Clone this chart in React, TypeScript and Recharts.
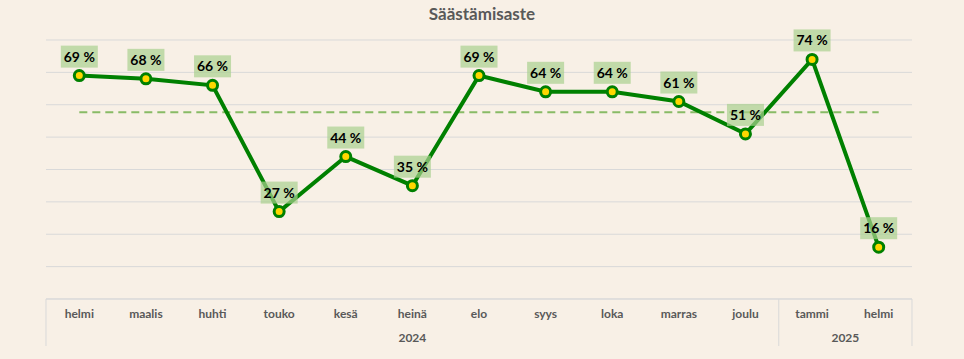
import React from "react";
import {
  LineChart,
  Line,
  XAxis,
  YAxis,
  CartesianGrid,
  LabelList,
} from "recharts";

const MONTHS = [
  "helmi", "maalis", "huhti", "touko", "kesä", "heinä", "elo",
  "syys", "loka", "marras", "joulu", "tammi", "helmi",
];
const YEARS = [
  "2024", "2024", "2024", "2024", "2024", "2024", "2024",
  "2024", "2024", "2024", "2024", "2025", "2025",
];
const RATES = [69, 68, 66, 27, 44, 35, 69, 64, 64, 61, 51, 74, 16];
// 12 kk keskiarvo (katkoviiva)
const AVERAGE = 57.7;
const Y_TICKS = [0, 10, 20, 30, 40, 50, 60, 70, 80];

const W = 964;
const H = 359;
const AXIS_H = 60;
const MARGIN = { top: 40, right: 52, bottom: 0, left: 46 };
const BAND = (W - MARGIN.left - MARGIN.right) / MONTHS.length;

const BG = "#f8f0e6";
const GREEN = "#008000";
const FONT = "Lato, 'Open Sans', sans-serif";

const data = MONTHS.map((m, i) => ({
  key: `${m}-${YEARS[i]}`,
  month: m,
  year: YEARS[i],
  rate: RATES[i],
  avg: AVERAGE,
}));

function MonthTick(props: any) {
  const { x, y, index } = props;
  const year = YEARS[index];
  const isFirst = index === 0 || YEARS[index - 1] !== year;
  const isLast = index === YEARS.length - 1;
  const groupLen = YEARS.filter((v) => v === year).length;
  const left = x - BAND / 2;
  // tick y sits a few px below the axis line
  const top = y - 8;
  return (
    <g>
      <text
        x={x}
        y={top + 19}
        textAnchor="middle"
        fontFamily={FONT}
        fontSize={12}
        fontWeight={700}
        fill="#595959"
      >
        {MONTHS[index]}
      </text>
      {isFirst && (
        <>
          <line x1={left} x2={left} y1={top} y2={top + 47} stroke="#d9d9d9" />
          <text
            x={left + (groupLen * BAND) / 2}
            y={top + 43}
            textAnchor="middle"
            fontFamily={FONT}
            fontSize={12}
            fontWeight={700}
            fill="#595959"
          >
            {year}
          </text>
        </>
      )}
      {isLast && (
        <line x1={x + BAND / 2} x2={x + BAND / 2} y1={top} y2={top + 47} stroke="#d9d9d9" />
      )}
    </g>
  );
}

function RateLabel(props: any) {
  const { x, y, value } = props;
  const w = 37;
  const h = 22;
  return (
    <g>
      <rect x={x - w / 2} y={y - 8 - h} width={w} height={h} fill="#a9d08e" fillOpacity={0.7} />
      <text
        x={x}
        y={y - 8 - h / 2 + 5}
        textAnchor="middle"
        fontFamily={FONT}
        fontSize={14}
        fontWeight={700}
        fill="#000"
      >
        {`${value} %`}
      </text>
    </g>
  );
}

export default function App() {
  return (
    <div
      style={{
        position: "fixed",
        left: 0,
        top: 0,
        width: W,
        height: H,
        background: BG,
      }}
    >
      <div
        style={{
          position: "absolute",
          top: 3,
          width: W,
          textAlign: "center",
          fontFamily: FONT,
          fontSize: 17,
          fontWeight: 700,
          color: "#595959",
        }}
      >
        Säästämisaste
      </div>
      <LineChart width={W} height={H} data={data} margin={MARGIN}>
        <CartesianGrid vertical={false} stroke="#d9d9d9" />
        <XAxis
          dataKey="key"
          type="category"
          axisLine={{ stroke: "#d9d9d9" }}
          tickLine={false}
          tick={<MonthTick />}
          interval={0}
          height={AXIS_H}
          padding={{ left: BAND / 2, right: BAND / 2 }}
        />
        <YAxis hide domain={[0, 80]} ticks={Y_TICKS} />
        <Line
          dataKey="avg"
          stroke="#88bb66"
          strokeWidth={2}
          strokeDasharray="8 5"
          dot={false}
          activeDot={false}
          isAnimationActive={false}
        />
        <Line
          dataKey="rate"
          stroke={GREEN}
          strokeWidth={4}
          dot={{ r: 5, stroke: GREEN, strokeWidth: 3, fill: "#ffd700" }}
          activeDot={false}
          isAnimationActive={false}
        >
          <LabelList dataKey="rate" content={<RateLabel />} />
        </Line>
      </LineChart>
    </div>
  );
}
